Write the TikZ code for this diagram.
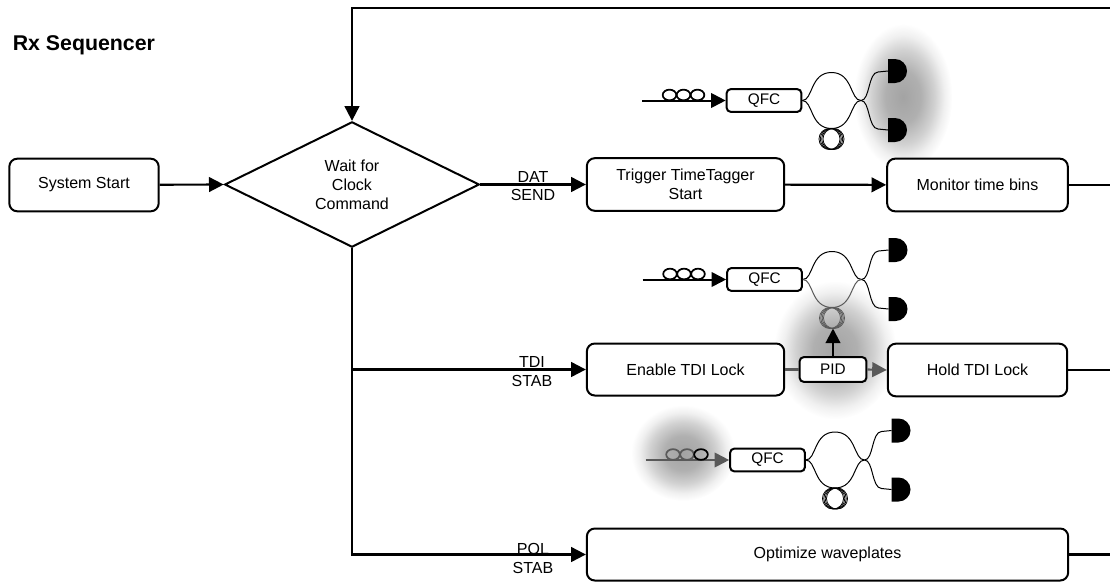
\documentclass[tikz,border=0pt]{standalone}
\usepackage{fontspec}
\setmainfont{Liberation Sans}
\usetikzlibrary{arrows.meta,shapes.geometric,calc}
\colorlet{glowA}{black!36}
\colorlet{glowB}{black!31}
\colorlet{glowC}{black!18}
\colorlet{glowD}{black!6}
\colorlet{dimgray}{black!65}
\pgfdeclareradialshading{glow}{\pgfpoint{0bp}{0bp}}{color(0bp)=(glowA); color(9bp)=(glowB); color(16bp)=(glowC); color(21bp)=(glowD); color(25bp)=(white); color(50bp)=(white)}
\newcommand{\myfs}{\fontsize{12}{14}\selectfont}
\tikzset{
  box/.style={draw, fill=white, line width=1.5pt, rounded corners=6pt, align=center, inner sep=0pt, font=\myfs},
  conn/.style={line width=1.6pt},
  arr/.style={-{Triangle[length=11pt,width=11pt]}},
  qfcbox/.style={draw, line width=1.5pt, rounded corners=3pt, inner sep=0pt, minimum width=56pt, minimum height=17pt, font=\fontsize{11.5}{13}\selectfont, fill=white},
  fiber/.style={line width=1.5pt},
  arm/.style={line width=0.75pt},
  loopc/.style={line width=1.3pt},
  coil/.style={line width=0.6pt},
  lbl/.style={inner sep=0pt, anchor=base, font=\myfs},
}
\newcommand{\optunit}[5]{%
\begin{scope}[shift={(#1,-#2)}]
\node[qfcbox] (#3qfc) at (0,0) {QFC};
\coordinate (#3in) at (-122,0);
\draw[fiber, draw=#4, arr] (#3in) -- (#3qfc.west);
\draw[loopc, draw=#4] (-94.5,5.5) ellipse [x radius=5.1pt, y radius=4pt];
\draw[loopc, draw=#4] (-80.5,5.5) ellipse [x radius=5.1pt, y radius=4pt];
\draw[loopc] (-66.5,5.5) ellipse [x radius=5.1pt, y radius=4pt];
\coordinate (#3j) at (97,0);
\draw[arm] (#3qfc.east) .. controls (49,0) and (46,28) .. (67.5,28) .. controls (89,28) and (86,0) .. (#3j);
\draw[arm, draw=#5] (#3qfc.east) .. controls (49,0) and (46,-28) .. (67.5,-28) .. controls (89,-28) and (86,0) .. (#3j);
\coordinate (#3du) at (124,29.5);
\coordinate (#3dl) at (124,-29.5);
\draw[arm] (#3j) .. controls (106,0) and (104,28) .. (114,28.5) -- (#3du);
\draw[arm] (#3j) .. controls (106,0) and (104,-28) .. (114,-28.5) -- (#3dl);
\fill ($(#3du)+(0,9pt)$) -- ++(5.25pt,0) arc[start angle=90,end angle=-90,radius=9pt] -- ++(-5.25pt,0) -- cycle;
\fill ($(#3dl)+(0,9pt)$) -- ++(5.25pt,0) arc[start angle=90,end angle=-90,radius=9pt] -- ++(-5.25pt,0) -- cycle;
\foreach \dx in {-2,-0.7,0.7,2} \draw[coil, draw=#5] (67.5+\dx,-38.5) circle[radius=7.9pt];
\coordinate (#3coil) at (67.5,-49);
\end{scope}}
\begin{document}
\begin{tikzpicture}[x=0.75pt,y=0.75pt]
\useasboundingbox (0,0) rectangle (1110,-582);
% glows
\shade[shading=glow] (903,-97) ellipse [x radius=37pt, y radius=55pt];
\shade[shading=glow] (835,-350) ellipse [x radius=46pt, y radius=52pt];
\shade[shading=glow] (683,-453) ellipse [x radius=39pt, y radius=36pt];
% title
\node[inner sep=0pt, anchor=base west, font=\fontsize{16}{19}\bfseries] (title) at (12.5,-50) {Rx Sequencer};
% nodes
\node[box, minimum width=112pt, minimum height=39.5pt] (start) at (84,-185) {System Start};
\node[diamond, draw, fill=white, line width=1.5pt, inner sep=0pt, minimum width=191pt, minimum height=94pt, align=center, font=\fontsize{12}{14.4}\selectfont] (dia) at (352,-184.5) {Wait for\\Clock\\Command};
\node[box, minimum width=148pt, minimum height=39.5pt] (trig) at (685.5,-184.5) {Trigger TimeTagger\\Start};
\node[box, minimum width=135.5pt, minimum height=39.5pt] (mon) at (977.5,-185) {Monitor time bins};
\node[box, minimum width=148pt, minimum height=39pt] (en) at (685.5,-369.5) {Enable TDI Lock};
\node[box, minimum width=50pt, minimum height=18.5pt, rounded corners=3pt, font=\fontsize{11.5}{13}\selectfont] (pid) at (833,-369.5) {PID};
\node[box, minimum width=134.5pt, minimum height=39.5pt] (hold) at (977.5,-370) {Hold TDI Lock};
\node[box, minimum width=361pt, minimum height=39pt] (opt) at (827.5,-554.5) {Optimize waveplates};
% labels
\node[lbl] (l1a) at (533,-182.5) {DAT};
\node[lbl] (l1b) at (533,-200.7) {SEND};
\node[lbl] (l2a) at (532,-367.3) {TDI};
\node[lbl] (l2b) at (532,-386) {STAB};
\node[lbl] (l3a) at (533,-554) {POL};
\node[lbl] (l3b) at (533,-573.3) {STAB};
% optical units
\optunit{764}{100.5}{a}{black}{black}
\optunit{764.5}{279.5}{b}{black}{dimgray}
\optunit{767.5}{460}{c}{dimgray}{black}
% connectors
\coordinate (edgeTop) at (1110,-8);
\draw[conn,arr] (start) -- (dia.west);
\draw[conn,arr] (dia.east) -- (trig.west);
\draw[conn,arr] (trig) -- (mon);
\draw[conn,arr] (edgeTop) -- (edgeTop -| dia.north) -- (dia.north);
\coordinate (vt) at (dia.south |- en.west);
\coordinate (vb) at (dia.south |- opt.west);
\draw[conn,arr] (dia.south) -- (vb) -- (opt.west);
\draw[conn,arr] (vt) -- (en.west);
\draw[conn] (mon.east) -- (mon.east -| edgeTop);
\draw[conn] (hold.east) -- (hold.east -| edgeTop);
\draw[conn] (opt.east) -- (opt.east -| edgeTop);
\draw[conn, draw=dimgray] (en.east) -- (pid.west);
\draw[conn, draw=dimgray, arr] (pid.east) -- (hold.west);
\draw[conn, arr] (pid.north) -- (pid.north |- bcoil);
\end{tikzpicture}
\end{document}
